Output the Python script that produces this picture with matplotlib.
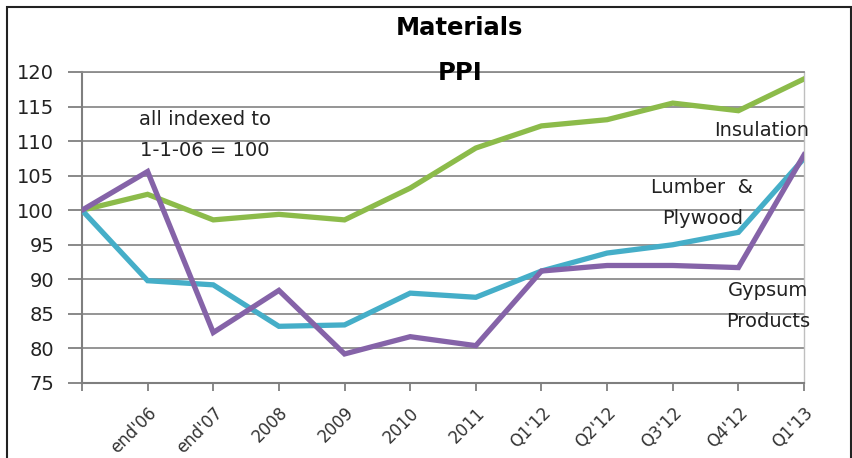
import matplotlib.pyplot as plt
from matplotlib.patches import Rectangle

plt.rcParams['font.family'] = ['DejaVu Sans']

periods = ['', "end'06", "end'07", '2008', '2009', '2010', '2011',
           "Q1'12", "Q2'12", "Q3'12", "Q4'12", "Q1'13"]
insulation = [100, 102.3, 98.6, 99.4, 98.6, 103.2, 109.0, 112.2, 113.1, 115.5, 114.4, 119.0]
lumber = [100, 89.8, 89.2, 83.2, 83.4, 88.0, 87.4, 91.2, 93.8, 95.0, 96.8, 107.5]
gypsum = [100, 105.6, 82.3, 88.4, 79.2, 81.7, 80.4, 91.2, 92.0, 92.0, 91.7, 108.0]

fig = plt.figure(figsize=(8.53, 4.58), dpi=100)
ax = fig.add_axes([0.0961, 0.1638, 0.8465, 0.679])

x = range(len(periods))
ax.plot(x, insulation, color='#8cbb4a', lw=3.8, solid_joinstyle='miter', zorder=3)
ax.plot(x, lumber, color='#45aec8', lw=3.8, solid_joinstyle='miter', zorder=3)
ax.plot(x, gypsum, color='#8563a8', lw=3.8, solid_joinstyle='miter', zorder=4)

ax.set_xlim(0, len(periods) - 1)
ax.set_ylim(75, 120)
ax.set_yticks(range(75, 121, 5))
ax.set_xticks(list(x))
ax.set_xticklabels(periods, rotation=45, ha='right', rotation_mode='anchor',
                   fontsize=12, color='#333333')
ax.tick_params(axis='y', labelsize=14, labelcolor='#222222', length=10, width=1.3,
               color='#7f7f7f', pad=10)
ax.tick_params(axis='x', length=6, width=1.3, color='#7f7f7f', pad=9)
ax.grid(axis='y', color='#8c8c8c', lw=1.3)
ax.set_axisbelow(True)

for side in ['left', 'bottom']:
    ax.spines[side].set_color('#7f7f7f')
    ax.spines[side].set_linewidth(1.5)
ax.spines['top'].set_color('#8c8c8c')
ax.spines['top'].set_linewidth(1.3)
ax.spines['right'].set_color('#bfbfbf')
ax.spines['right'].set_linewidth(1.0)

txt = dict(ha='center', va='center', fontsize=14, color='#222222', linespacing=1.8)
ax.text(1.87, 110.9, 'all indexed to\n1-1-06 = 100', **txt)
ax.text(10.35, 111.6, 'Insulation', **txt)
ax.text(9.45, 101.0, 'Lumber  &\nPlywood', **txt)
ax.text(10.45, 86.1, 'Gypsum\nProducts', **txt)

title = dict(ha='center', va='center', fontsize=17.5, fontweight='bold')
fig.text(0.539, 0.939, 'Materials', **title)
fig.text(0.539, 0.841, 'PPI', **title)

# outer chart frame
fig.patches.append(Rectangle((7 / 853, -0.05), 844 / 853, 1 - 7 / 458 + 0.05,
                             transform=fig.transFigure, fill=False,
                             edgecolor='#222222', lw=1.5))

fig.savefig('out.png', dpi=100)
